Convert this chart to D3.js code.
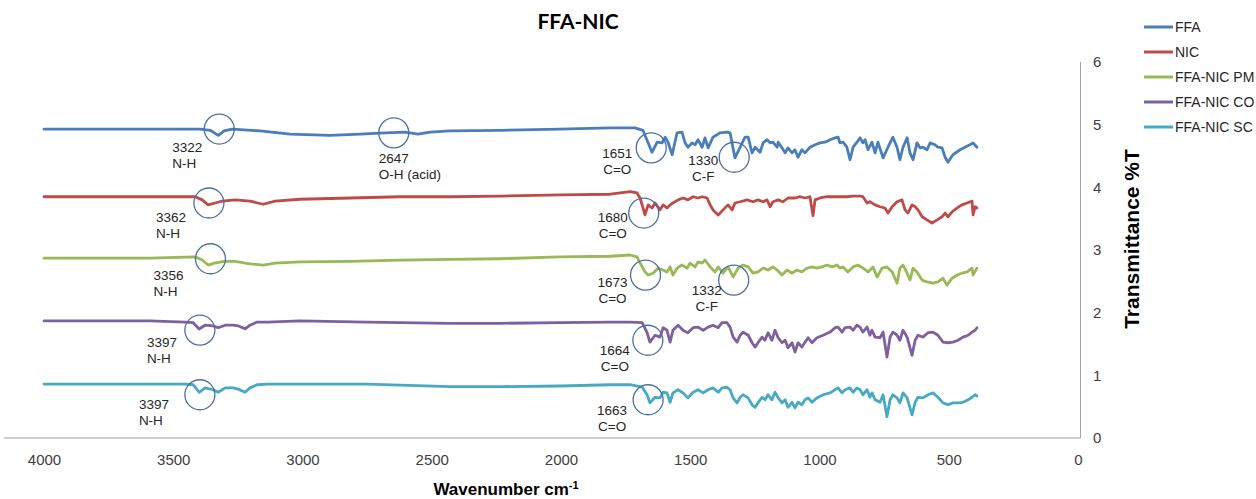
<!DOCTYPE html>
<html>
<head>
<meta charset="utf-8">
<script src="https://cdn.jsdelivr.net/npm/d3@7"></script>
<style>
  html, body { margin: 0; padding: 0; background: #ffffff; }
  svg { display: block; font-family: "Liberation Sans", Arial, sans-serif; }
</style>
</head>
<body>
<svg id="chart" width="1256" height="499"></svg>
<script>
// FTIR spectra, [wavenumber cm-1, transmittance offset units]
const ffaSpectrum = [[4000,4.93],[3590,4.93],[3396,4.93],[3357,4.91],[3326,4.83],[3303,4.90],[3272,4.93],[3164,4.90],[3048,4.85],[2893,4.83],[2777,4.85],[2681,4.87],[2603,4.88],[2553,4.85],[2506,4.88],[2429,4.90],[2236,4.91],[2004,4.93],[1810,4.95],[1714,4.95],
  [1683,4.91],[1648,4.56],[1628,4.72],[1609,4.71],[1597,4.80],[1586,4.72],[1570,4.52],[1551,4.87],[1532,4.88],[1520,4.71],[1509,4.64],[1493,4.71],[1481,4.68],[1470,4.76],[1454,4.64],[1443,4.79],[1431,4.63],[1412,4.80],[1385,4.87],[1358,4.88],[1346,4.87],[1327,4.47],[1307,4.64],[1288,4.80],[1276,4.80],[1261,4.55],[1249,4.64],[1230,4.56],[1218,4.71],[1203,4.76],[1191,4.71],[1180,4.72],[1164,4.64],[1160,4.72],[1145,4.63],[1133,4.55],[1122,4.63],[1106,4.55],[1095,4.60],[1083,4.48],[1068,4.60],[1056,4.55],[1037,4.64],[1017,4.68],[998,4.71],[979,4.72],[959,4.76],[940,4.79],[928,4.80],[921,4.71],[909,4.72],[894,4.64],[882,4.44],[870,4.64],[855,4.72],[843,4.79],[832,4.71],[824,4.76],[812,4.60],[797,4.72],[785,4.55],[774,4.72],[754,4.47],[735,4.64],[716,4.80],[700,4.64],[689,4.44],[677,4.64],[661,4.79],[650,4.55],[638,4.44],[623,4.71],[611,4.63],[600,4.64],[584,4.60],[572,4.71],[553,4.68],[542,4.64],[526,4.63],[514,4.48],[503,4.40],[484,4.52],[456,4.60],[437,4.64],[418,4.68],[406,4.71],[391,4.64]];

const nicSpectrum = [[4000,3.85],[3590,3.85],[3415,3.85],[3388,3.80],[3365,3.72],[3338,3.75],[3311,3.78],[3261,3.80],[3203,3.78],[3152,3.73],[3106,3.78],[3009,3.81],[2816,3.83],[2623,3.85],[2429,3.85],[2236,3.86],[2004,3.88],[1810,3.89],[1733,3.93],
  [1706,3.91],[1694,3.83],[1675,3.56],[1663,3.72],[1648,3.67],[1636,3.75],[1617,3.64],[1605,3.72],[1590,3.67],[1578,3.72],[1567,3.75],[1547,3.80],[1528,3.83],[1509,3.80],[1489,3.85],[1470,3.83],[1454,3.85],[1435,3.83],[1423,3.72],[1412,3.64],[1392,3.56],[1373,3.64],[1354,3.72],[1338,3.64],[1327,3.75],[1307,3.77],[1280,3.80],[1257,3.77],[1238,3.80],[1218,3.77],[1203,3.80],[1191,3.69],[1180,3.77],[1160,3.80],[1141,3.77],[1122,3.83],[1095,3.83],[1075,3.85],[1056,3.83],[1037,3.85],[1025,3.55],[1017,3.80],[998,3.83],[971,3.85],[948,3.85],[921,3.85],[894,3.85],[870,3.86],[843,3.86],[832,3.85],[816,3.75],[805,3.77],[785,3.72],[766,3.69],[747,3.67],[735,3.59],[719,3.69],[700,3.77],[681,3.80],[669,3.64],[658,3.59],[642,3.72],[630,3.69],[619,3.64],[603,3.53],[584,3.48],[565,3.43],[545,3.48],[526,3.53],[514,3.59],[503,3.53],[487,3.61],[468,3.67],[449,3.72],[429,3.75],[410,3.78],[406,3.56],[398,3.69],[391,3.67]];

const pmSpectrum = [[4000,2.87],[3590,2.87],[3415,2.89],[3388,2.84],[3365,2.76],[3341,2.79],[3303,2.82],[3261,2.82],[3203,2.78],[3152,2.76],[3106,2.79],[3009,2.81],[2816,2.82],[2623,2.84],[2429,2.85],[2236,2.86],[2004,2.89],[1810,2.90],[1733,2.92],
  [1706,2.89],[1694,2.79],[1675,2.65],[1663,2.60],[1644,2.63],[1625,2.71],[1605,2.68],[1590,2.65],[1578,2.73],[1567,2.60],[1551,2.71],[1532,2.76],[1512,2.71],[1501,2.79],[1481,2.73],[1470,2.81],[1454,2.79],[1443,2.84],[1423,2.73],[1404,2.65],[1392,2.73],[1373,2.63],[1354,2.73],[1334,2.57],[1315,2.71],[1296,2.76],[1276,2.73],[1257,2.63],[1238,2.65],[1218,2.71],[1199,2.68],[1180,2.73],[1164,2.68],[1145,2.60],[1126,2.68],[1106,2.63],[1087,2.68],[1068,2.65],[1048,2.71],[1029,2.73],[1010,2.71],[990,2.73],[971,2.76],[951,2.73],[932,2.76],[921,2.71],[909,2.73],[890,2.65],[870,2.73],[851,2.76],[832,2.71],[812,2.65],[793,2.73],[777,2.57],[758,2.71],[739,2.73],[719,2.65],[700,2.47],[689,2.71],[677,2.76],[661,2.63],[650,2.52],[638,2.71],[623,2.65],[603,2.52],[584,2.49],[561,2.47],[542,2.49],[522,2.55],[507,2.44],[487,2.55],[468,2.60],[449,2.63],[429,2.65],[410,2.71],[406,2.60],[391,2.71]];

const coSpectrum = [[4000,1.87],[3590,1.87],[3454,1.85],[3423,1.84],[3400,1.74],[3377,1.80],[3346,1.79],[3326,1.76],[3299,1.80],[3268,1.80],[3249,1.79],[3222,1.74],[3203,1.80],[3176,1.85],[3137,1.85],[3009,1.87],[2750,1.85],[2429,1.83],[2236,1.83],[2004,1.84],[1810,1.85],[1733,1.85],
  [1686,1.84],[1667,1.68],[1656,1.53],[1636,1.64],[1617,1.61],[1605,1.76],[1590,1.72],[1578,1.53],[1567,1.72],[1547,1.80],[1528,1.72],[1509,1.68],[1489,1.76],[1470,1.77],[1450,1.72],[1431,1.77],[1412,1.80],[1392,1.76],[1377,1.84],[1358,1.84],[1346,1.77],[1334,1.61],[1319,1.53],[1307,1.64],[1296,1.69],[1276,1.64],[1261,1.52],[1249,1.45],[1238,1.52],[1222,1.61],[1211,1.56],[1199,1.68],[1184,1.56],[1172,1.72],[1160,1.60],[1145,1.52],[1133,1.56],[1122,1.44],[1106,1.52],[1095,1.37],[1083,1.52],[1068,1.45],[1056,1.53],[1044,1.60],[1029,1.52],[1010,1.60],[986,1.64],[959,1.69],[940,1.76],[928,1.77],[913,1.69],[901,1.76],[882,1.77],[870,1.72],[855,1.80],[843,1.77],[832,1.69],[816,1.77],[805,1.64],[797,1.72],[785,1.61],[766,1.60],[754,1.69],[739,1.29],[727,1.61],[716,1.69],[700,1.64],[689,1.56],[677,1.72],[661,1.61],[642,1.32],[630,1.56],[619,1.64],[600,1.61],[580,1.68],[561,1.69],[542,1.64],[522,1.53],[503,1.52],[484,1.53],[464,1.56],[445,1.61],[425,1.64],[410,1.69],[398,1.72],[391,1.76]];

const scSpectrum = [[4000,0.86],[3590,0.86],[3454,0.86],[3423,0.85],[3400,0.73],[3377,0.80],[3346,0.77],[3326,0.73],[3299,0.80],[3268,0.80],[3249,0.78],[3222,0.73],[3203,0.80],[3176,0.85],[3137,0.86],[3009,0.86],[2750,0.86],[2429,0.82],[2236,0.82],[2004,0.83],[1810,0.85],[1733,0.85],
  [1686,0.81],[1667,0.69],[1656,0.56],[1636,0.65],[1617,0.64],[1605,0.73],[1590,0.72],[1578,0.57],[1567,0.72],[1547,0.77],[1528,0.72],[1509,0.64],[1489,0.73],[1470,0.77],[1450,0.72],[1431,0.77],[1412,0.80],[1392,0.73],[1377,0.80],[1358,0.81],[1346,0.77],[1334,0.64],[1319,0.56],[1307,0.65],[1296,0.69],[1276,0.64],[1261,0.53],[1249,0.49],[1238,0.56],[1222,0.65],[1211,0.61],[1199,0.69],[1184,0.61],[1172,0.73],[1160,0.64],[1145,0.56],[1133,0.61],[1122,0.49],[1106,0.57],[1095,0.48],[1083,0.57],[1068,0.53],[1056,0.61],[1044,0.64],[1029,0.57],[1010,0.64],[986,0.69],[959,0.72],[940,0.77],[928,0.80],[913,0.72],[901,0.77],[882,0.80],[870,0.73],[855,0.80],[843,0.77],[832,0.69],[816,0.77],[805,0.65],[797,0.72],[785,0.61],[766,0.57],[754,0.69],[739,0.34],[727,0.61],[716,0.69],[700,0.64],[689,0.56],[677,0.72],[661,0.64],[642,0.37],[630,0.57],[619,0.65],[600,0.64],[580,0.69],[561,0.72],[542,0.65],[522,0.56],[503,0.53],[484,0.56],[464,0.56],[445,0.57],[425,0.61],[410,0.65],[398,0.69],[391,0.67]];

const seriesNames = ["FFA", "NIC", "FFA-NIC PM", "FFA-NIC CO", "FFA-NIC SC"];
const seriesData = [ffaSpectrum, nicSpectrum, pmSpectrum, coSpectrum, scSpectrum];

const xTicks = [4000, 3500, 3000, 2500, 2000, 1500, 1000, 500, 0];
const yTicks = [0, 1, 2, 3, 4, 5, 6];

// Band assignments: wavenumber, transmittance at the circled band, group label
const bandWavenumbers = [3322, 2647, 1651, 1330, 3362, 1680, 3356, 1673, 1332, 3397, 1664, 3397, 1663];
const bandLevels      = [4.93, 4.87, 4.63, 4.48, 3.75, 3.59, 2.86, 2.60, 2.52, 1.72, 1.56, 0.69, 0.61];
const bandGroups      = ["N-H", "O-H (acid)", "C=O", "C-F", "N-H", "C=O", "N-H", "C=O", "C-F", "N-H", "C=O", "N-H", "C=O"];

// Label placement for each band callout, relative to its circle
const calloutLayout = [
  {dx: -47, dy: 18, anchor: "start"},
  {dx: -15, dy: 25, anchor: "start"},
  {dx: -34, dy: 5,  anchor: "middle"},
  {dx: -31, dy: 3,  anchor: "middle"},
  {dx: -53, dy: 14, anchor: "start"},
  {dx: -31, dy: 4,  anchor: "middle"},
  {dx: -57, dy: 16, anchor: "start"},
  {dx: -33, dy: 7,  anchor: "middle"},
  {dx: -27, dy: 10, anchor: "middle"},
  {dx: -53, dy: 12, anchor: "start"},
  {dx: -33, dy: 10, anchor: "middle"},
  {dx: -61, dy: 9,  anchor: "start"},
  {dx: -36, dy: 10, anchor: "middle"}
];

const colors = ["#4a7ebb", "#be4b48", "#98b954", "#7d60a0", "#46aac5"];

const svg = d3.select("#chart");

const x = d3.scaleLinear().domain([4000, 0]).range([44, 1078]);
const y = d3.scaleLinear().domain([0, 6]).range([438, 62]);

// Title
svg.append("text")
  .attr("x", 578).attr("y", 29)
  .attr("text-anchor", "middle")
  .style("font-family", "Lato, 'Liberation Sans', Arial, sans-serif")
  .style("font-weight", "bold")
  .style("font-size", "21px")
  .attr("fill", "#000")
  .text("FFA-NIC");

// Axis lines
svg.append("line")
  .attr("x1", 4).attr("x2", 1081)
  .attr("y1", y(0)).attr("y2", y(0))
  .attr("stroke", "#bfbfbf").attr("stroke-width", 1.5);
svg.append("line")
  .attr("x1", 1080.5).attr("x2", 1080.5)
  .attr("y1", y(6)).attr("y2", y(0))
  .attr("stroke", "#a6a6a6").attr("stroke-width", 1);

// X axis
const xAxis = svg.append("g")
  .attr("transform", `translate(0,${y(0)})`)
  .call(d3.axisBottom(x).tickValues(xTicks).tickSize(0).tickPadding(16).tickFormat(d3.format("d")));
xAxis.select(".domain").remove();
xAxis.selectAll("text")
  .style("font-family", "'Liberation Sans', Arial, sans-serif")
  .style("font-size", "15px").attr("fill", "#404040");

// Y axis (right)
const yAxis = svg.append("g")
  .attr("transform", "translate(1080,0)")
  .call(d3.axisRight(y).tickValues(yTicks).tickSize(0).tickPadding(13).tickFormat(d3.format("d")));
yAxis.select(".domain").remove();
yAxis.selectAll("text")
  .style("font-family", "'Liberation Sans', Arial, sans-serif")
  .style("font-size", "15px").attr("fill", "#404040");

// Axis titles
const xTitle = svg.append("text")
  .attr("x", 506).attr("y", 495)
  .attr("text-anchor", "middle")
  .style("font-weight", "bold").style("font-size", "17px")
  .attr("fill", "#000");
xTitle.append("tspan").text("Wavenumber cm");
xTitle.append("tspan").attr("dy", -6).style("font-size", "11px").text("-1");

svg.append("text")
  .attr("transform", "translate(1139,239) rotate(-90)")
  .attr("text-anchor", "middle")
  .style("font-weight", "bold").style("font-size", "21px")
  .attr("fill", "#000")
  .text("Transmittance %T");

// Spectra
const line = d3.line()
  .x(d => x(d[0]))
  .y(d => y(d[1]))
  .curve(d3.curveLinear);

svg.append("g").selectAll("path")
  .data(seriesData)
  .join("path")
  .attr("d", line)
  .attr("fill", "none")
  .attr("stroke", (d, i) => colors[i])
  .attr("stroke-width", 2.8)
  .attr("stroke-linejoin", "round")
  .attr("stroke-linecap", "round");

// Band callouts
const callouts = svg.append("g").selectAll("g")
  .data(bandWavenumbers.map((wn, i) => ({wn, level: bandLevels[i], group: bandGroups[i], layout: calloutLayout[i]})))
  .join("g")
  .attr("transform", d => `translate(${x(d.wn)},${y(d.level)})`);

callouts.append("circle")
  .attr("r", 15)
  .attr("fill", "none")
  .attr("stroke", "#4a6fa5")
  .attr("stroke-width", 1.3);

const labels = callouts.append("text")
  .attr("text-anchor", d => d.layout.anchor)
  .style("font-size", "13.5px")
  .attr("fill", "#262626");
labels.append("tspan")
  .attr("x", d => d.layout.dx)
  .attr("y", d => d.layout.dy + 5)
  .text(d => String(d.wn));
labels.append("tspan")
  .attr("x", d => d.layout.dx)
  .attr("y", d => d.layout.dy + 21)
  .text(d => d.group);

// Legend
const legend = svg.append("g").selectAll("g")
  .data(seriesNames)
  .join("g")
  .attr("transform", (d, i) => `translate(1144,${27 + i * 25})`);
legend.append("line")
  .attr("x1", 0).attr("x2", 29)
  .attr("stroke", (d, i) => colors[i])
  .attr("stroke-width", 3);
legend.append("text")
  .attr("x", 31).attr("y", 5)
  .style("font-size", "14px")
  .attr("fill", "#262626")
  .text(d => d);
</script>
</body>
</html>
